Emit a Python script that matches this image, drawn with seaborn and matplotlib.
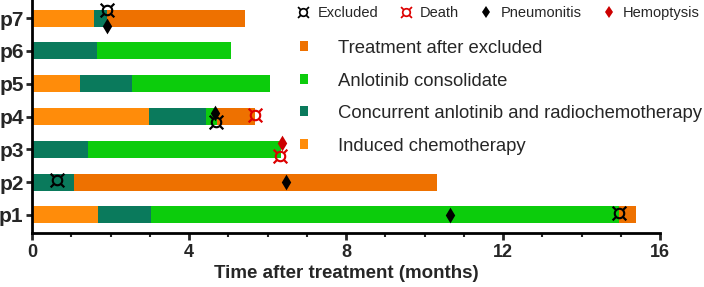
import numpy as np
import pandas as pd
import matplotlib
matplotlib.use('Agg')
import matplotlib.pyplot as plt
import seaborn as sns
from matplotlib.lines import Line2D
from matplotlib.patches import Patch

# ---- data ----
patients = ['p7', 'p6', 'p5', 'p4', 'p3', 'p2', 'p1']

# segments per patient: (type, end time in months), sequential from 0
seg_patient = ['p7', 'p7', 'p7',
               'p6', 'p6',
               'p5', 'p5', 'p5',
               'p4', 'p4', 'p4', 'p4',
               'p3', 'p3',
               'p2', 'p2',
               'p1', 'p1', 'p1', 'p1']
seg_type = ['Induced chemotherapy', 'Concurrent anlotinib and radiochemotherapy', 'Treatment after excluded',
            'Concurrent anlotinib and radiochemotherapy', 'Anlotinib consolidate',
            'Induced chemotherapy', 'Concurrent anlotinib and radiochemotherapy', 'Anlotinib consolidate',
            'Induced chemotherapy', 'Concurrent anlotinib and radiochemotherapy', 'Anlotinib consolidate', 'Treatment after excluded',
            'Concurrent anlotinib and radiochemotherapy', 'Anlotinib consolidate',
            'Concurrent anlotinib and radiochemotherapy', 'Treatment after excluded',
            'Induced chemotherapy', 'Concurrent anlotinib and radiochemotherapy', 'Anlotinib consolidate', 'Treatment after excluded']
seg_end = [1.58, 1.91, 5.42,
           1.65, 5.06,
           1.22, 2.54, 6.06,
           2.98, 4.43, 4.71, 5.67,
           1.43, 6.34,
           1.07, 10.33,
           1.68, 3.03, 14.96, 15.39]

# events
ev_patient = ['p7', 'p7', 'p4', 'p4', 'p4', 'p3', 'p3', 'p2', 'p2', 'p1', 'p1']
ev_type = ['Excluded', 'Pneumonitis', 'Pneumonitis', 'Excluded', 'Death',
           'Hemoptysis', 'Death', 'Excluded', 'Pneumonitis', 'Pneumonitis', 'Excluded']
ev_time = [1.91, 1.91, 4.66, 4.68, 5.67, 6.36, 6.33, 0.64, 6.46, 10.66, 14.96]
ev_shift = [-0.24, 0.24, -0.12, 0.18, -0.05, -0.18, 0.2, -0.05, 0.0, 0.0, -0.05]

seg_colors = {
    'Treatment after excluded': '#EE7100',
    'Anlotinib consolidate': '#0CCC0C',
    'Concurrent anlotinib and radiochemotherapy': '#0A7A5C',
    'Induced chemotherapy': '#FF8C0A',
}
ev_style = {
    'Excluded': ('$¤$', 'black', 11),
    'Death': ('$¤$', '#DD0000', 11),
    'Pneumonitis': ('d', 'black', 8),
    'Hemoptysis': ('d', '#CC0000', 8),
}

df = pd.DataFrame({'patient': seg_patient, 'type': seg_type, 'end': seg_end})
df['idx'] = df.groupby('patient').cumcount()

# ---- style ----
sns.set_style('white')
plt.rcParams['font.family'] = ['Liberation Sans', 'DejaVu Sans']

fig = plt.figure(figsize=(7.04, 2.87), dpi=100)
ax = fig.add_axes([32 / 704, 1 - 233 / 287, (660 - 32) / 704, 233 / 287])

# draw the later segments first, so earlier ones overlap them
for k in sorted(df['idx'].unique(), reverse=True):
    sub = df[df['idx'] == k]
    sns.barplot(data=sub, x='end', y='patient', hue='type', palette=seg_colors,
                order=patients, orient='h', dodge=False, width=0.52,
                linewidth=0, saturation=1, legend=False, ax=ax)

ev = pd.DataFrame({'patient': ev_patient, 'type': ev_type, 'time': ev_time, 'shift': ev_shift})
ev['y'] = [patients.index(p) for p in ev['patient']] + ev['shift']
for t, (m, c, s) in ev_style.items():
    sub = ev[ev['type'] == t]
    ax.scatter(sub['time'], sub['y'], marker=m, color=c, s=s ** 2, linewidths=0, zorder=5)

ax.set_xlim(0, 16)
ax.set_ylim(6.55, -0.55)
ax.set_xticks(np.arange(0, 17, 4))
ax.set_xticks(np.arange(0, 17, 1), minor=True)
ax.set_xlabel('Time after treatment (months)', fontsize=13.5, fontweight='bold', labelpad=3)
ax.set_ylabel('')
for sp in ['top', 'right']:
    ax.spines[sp].set_visible(False)
for sp in ['left', 'bottom']:
    ax.spines[sp].set_linewidth(2)
    ax.spines[sp].set_color('black')
ax.tick_params(axis='x', which='major', direction='out', length=5, width=2, labelsize=13, pad=3)
ax.tick_params(axis='x', which='minor', direction='out', length=3, width=1.5)
ax.tick_params(axis='y', direction='out', length=4, width=2, labelsize=15, pad=2)
ax.tick_params(bottom=True, left=True, which='both')
for lab in ax.get_xticklabels() + ax.get_yticklabels():
    lab.set_fontweight('bold')

# ---- legends ----
h1 = [Line2D([], [], linestyle='none', marker=m, color=c, markersize=s * 0.8, markeredgewidth=0)
      for m, c, s in ev_style.values()]
leg1 = fig.legend(h1, list(ev_style.keys()), loc='upper left', bbox_to_anchor=(294 / 704, 1 - 3 / 287),
                  ncol=4, frameon=False, fontsize=10.5, handlelength=0.9, handletextpad=0.5,
                  columnspacing=1.45, borderpad=0.2, borderaxespad=0)

h2 = [Patch(facecolor=c, edgecolor='none') for c in seg_colors.values()]
leg2 = fig.legend(h2, list(seg_colors.keys()), loc='upper left', bbox_to_anchor=(300 / 704, 1 - 40 / 287),
                  ncol=1, frameon=False, fontsize=13.3, handlelength=0.45, handleheight=0.45,
                  handletextpad=1.6, labelspacing=0.84, borderpad=0, borderaxespad=0)

fig.savefig('out.png', dpi=100)
